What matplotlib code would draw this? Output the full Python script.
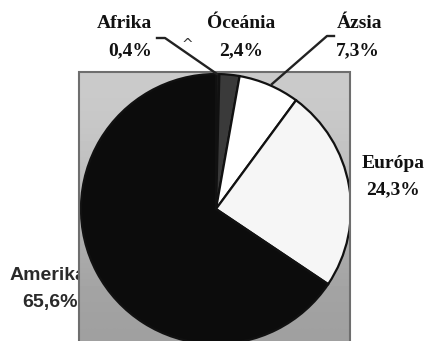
import matplotlib.pyplot as plt
import numpy as np
from matplotlib.patches import Rectangle

regions = ['Afrika', 'Óceánia', 'Ázsia', 'Európa', 'Amerika']
shares = [0.4, 2.4, 7.3, 24.3, 65.6]
share_labels = ['0,4%', '2,4%', '7,3%', '24,3%', '65,6%']
colors = ['#1a1a1a', '#3a3a3a', '#ffffff', '#f6f6f6', '#0c0c0c']

W, H = 430, 341
fig = plt.figure(figsize=(W / 100, H / 100), dpi=100)
ax = fig.add_axes([0, 0, 1, 1])

# grey plot area behind the pie (lighter at the top, like the scan)
box = Rectangle((79, -5), 271, H - 72 + 5, facecolor='none',
                edgecolor='#6e6e6e', linewidth=1.5, zorder=5)
ax.add_patch(box)
shade = np.array([[0.80], [0.62]])
ax.imshow(shade, cmap='gray', vmin=0, vmax=1, extent=(79, 350, -5, H - 72),
          aspect='auto', zorder=2, interpolation='bicubic')

wedges, _ = ax.pie(shares, colors=colors, startangle=90, counterclock=False,
                   center=(216, H - 209), radius=135,
                   wedgeprops=dict(edgecolor='#111111', linewidth=1.6))
for w in wedges:
    w.set_zorder(3)
    w.set_clip_on(True)
    w.set_clip_path(box)

serif = dict(family='Liberation Serif', fontweight='bold', fontsize=14,
             color='#111111', ha='center', va='center')
sans = dict(family='Liberation Sans', fontweight='bold', fontsize=14,
            color='#2a2a2a', ha='center', va='center')

# label positions in pixel coordinates (x, y of first line from top)
label_pos = [(124, 24), (241, 24), (360, 24), (393, 163), (48, 276)]
pct_dx = [6, 0, -2, 0, 2]
for i, (name, pct) in enumerate(zip(regions, share_labels)):
    x, y = label_pos[i]
    style = sans if name == 'Amerika' else serif
    ax.text(x, H - y, name, zorder=1, **style)
    ax.text(x + pct_dx[i], H - y - 27, pct, zorder=1, **style)

ax.text(187, H - 45, '^', fontsize=10, color='#333333', ha='center', va='center')

# leader lines
ax.plot([157, 165, 217], [H - 38, H - 38, H - 74], color='#222222', lw=1.7, zorder=6)
ax.plot([334, 327, 272], [H - 36, H - 36, H - 84], color='#222222', lw=1.7, zorder=6)

ax.set_xlim(0, W)
ax.set_ylim(0, H)
ax.axis('off')
fig.savefig('out.png', dpi=100, facecolor='white')
